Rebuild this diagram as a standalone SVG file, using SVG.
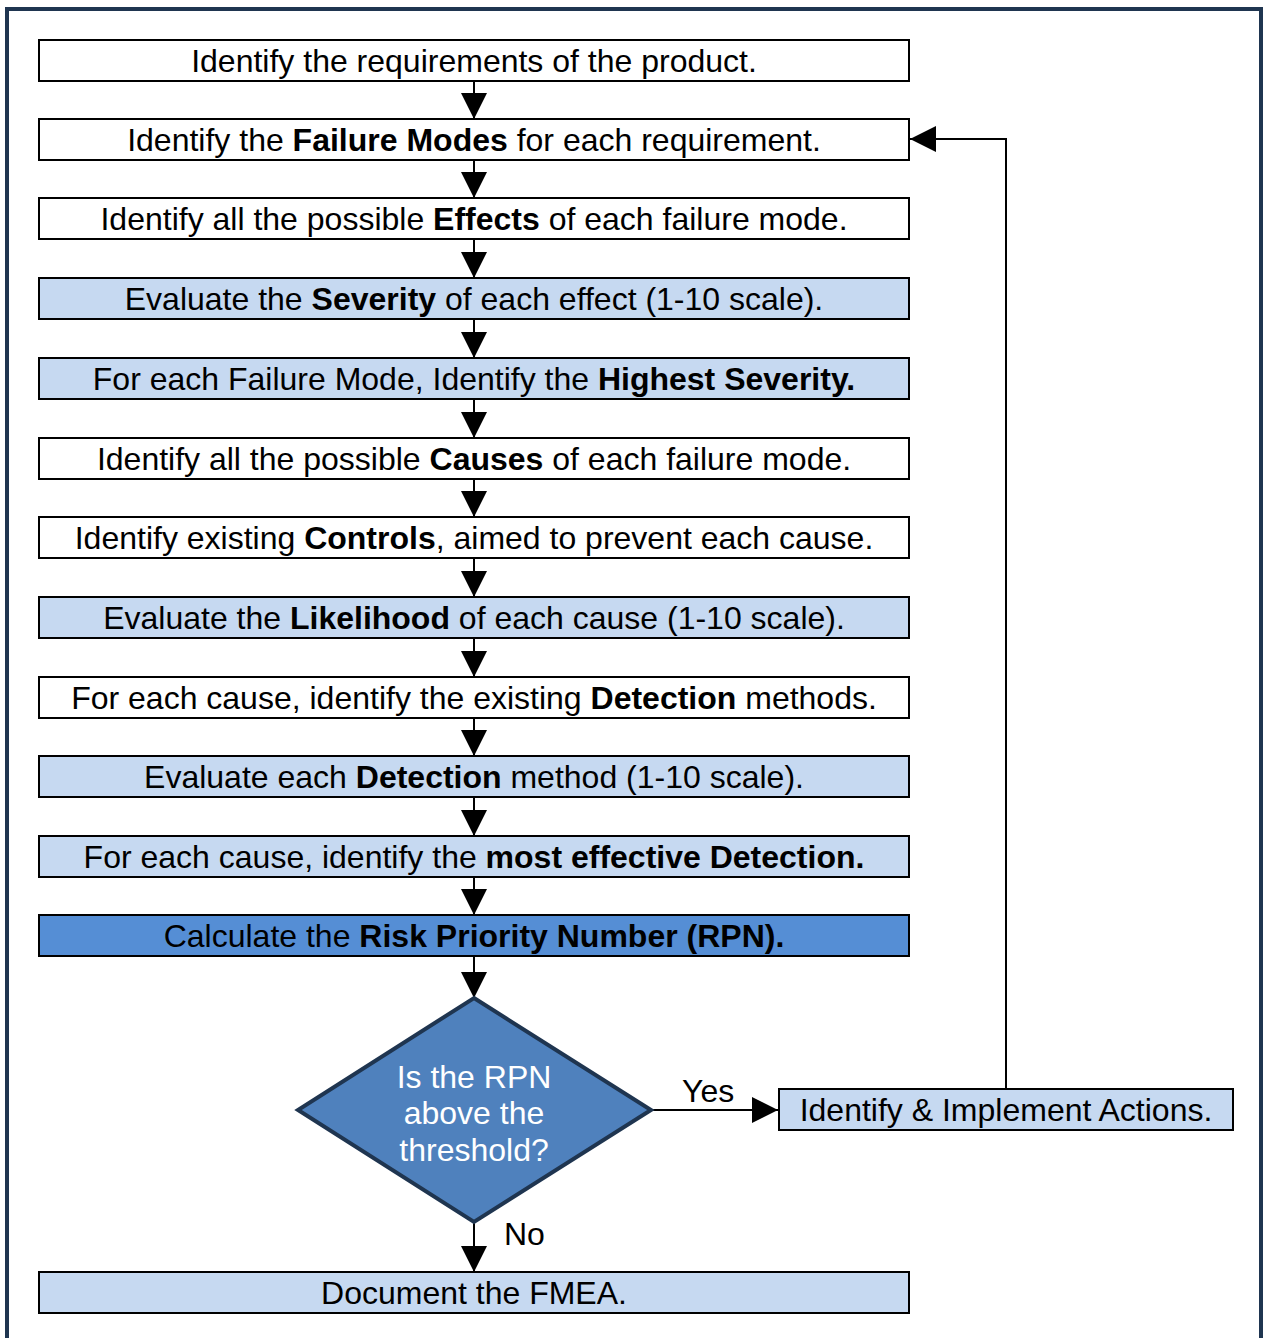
<svg xmlns="http://www.w3.org/2000/svg" width="1264" height="1338" viewBox="0 0 1264 1338">
<defs>
<marker id="ah" markerWidth="26" markerHeight="26" viewBox="0 0 26 26" refX="26" refY="13" orient="auto" markerUnits="userSpaceOnUse">
<path d="M0,0 L26,13 L0,26 Z" fill="#000"/>
</marker>
<style>
.box{stroke:#000;stroke-width:2}
.w{fill:#fff}
.l{fill:#c6d9f1}
.d{fill:#558ed5}
text{font-family:"Liberation Sans",Arial,sans-serif;font-size:32px;fill:#000}
.t{text-anchor:middle}
.b{font-weight:bold}
.c{stroke:#000;stroke-width:2;fill:none}
</style>
</defs>
<rect x="0" y="0" width="1264" height="1338" fill="#fff"/>
<rect x="7" y="9" width="1254" height="1340" fill="none" stroke="#1f3550" stroke-width="4"/>
<g id="connectors">
<line class="c" x1="474" y1="81" x2="474" y2="119" marker-end="url(#ah)"/>
<line class="c" x1="474" y1="160" x2="474" y2="198" marker-end="url(#ah)"/>
<line class="c" x1="474" y1="239" x2="474" y2="278" marker-end="url(#ah)"/>
<line class="c" x1="474" y1="319" x2="474" y2="358" marker-end="url(#ah)"/>
<line class="c" x1="474" y1="399" x2="474" y2="438" marker-end="url(#ah)"/>
<line class="c" x1="474" y1="479" x2="474" y2="517" marker-end="url(#ah)"/>
<line class="c" x1="474" y1="558" x2="474" y2="597" marker-end="url(#ah)"/>
<line class="c" x1="474" y1="638" x2="474" y2="677" marker-end="url(#ah)"/>
<line class="c" x1="474" y1="718" x2="474" y2="756" marker-end="url(#ah)"/>
<line class="c" x1="474" y1="797" x2="474" y2="836" marker-end="url(#ah)"/>
<line class="c" x1="474" y1="877" x2="474" y2="915" marker-end="url(#ah)"/>
<line class="c" x1="474" y1="956" x2="474" y2="998" marker-end="url(#ah)"/>
<line class="c" x1="651" y1="1110" x2="778" y2="1110" marker-end="url(#ah)"/>
<line class="c" x1="474" y1="1222" x2="474" y2="1272" marker-end="url(#ah)"/>
<polyline class="c" points="1006,1089 1006,139 910,139" marker-end="url(#ah)"/>
<text x="682" y="1102">Yes</text>
<text x="504" y="1245">No</text>
</g>
<g id="n1"><rect class="box w" x="39" y="40" width="870" height="41"/><text class="t" x="474" y="72">Identify the requirements of the product.</text></g>
<g id="n2"><rect class="box w" x="39" y="119" width="870" height="41"/><text class="t" x="474" y="151">Identify the <tspan class="b">Failure Modes</tspan> for each requirement.</text></g>
<g id="n3"><rect class="box w" x="39" y="198" width="870" height="41"/><text class="t" x="474" y="230">Identify all the possible <tspan class="b">Effects</tspan> of each failure mode.</text></g>
<g id="n4"><rect class="box l" x="39" y="278" width="870" height="41"/><text class="t" x="474" y="310">Evaluate the <tspan class="b">Severity</tspan> of each effect (1-10 scale).</text></g>
<g id="n5"><rect class="box l" x="39" y="358" width="870" height="41"/><text class="t" x="474" y="390">For each Failure Mode, Identify the <tspan class="b">Highest Severity.</tspan></text></g>
<g id="n6"><rect class="box w" x="39" y="438" width="870" height="41"/><text class="t" x="474" y="470">Identify all the possible <tspan class="b">Causes</tspan> of each failure mode.</text></g>
<g id="n7"><rect class="box w" x="39" y="517" width="870" height="41"/><text class="t" x="474" y="549">Identify existing <tspan class="b">Controls</tspan>, aimed to prevent each cause.</text></g>
<g id="n8"><rect class="box l" x="39" y="597" width="870" height="41"/><text class="t" x="474" y="629">Evaluate the <tspan class="b">Likelihood</tspan> of each cause (1-10 scale).</text></g>
<g id="n9"><rect class="box w" x="39" y="677" width="870" height="41"/><text class="t" x="474" y="709">For each cause, identify the existing <tspan class="b">Detection</tspan> methods.</text></g>
<g id="n10"><rect class="box l" x="39" y="756" width="870" height="41"/><text class="t" x="474" y="788">Evaluate each <tspan class="b">Detection</tspan> method (1-10 scale).</text></g>
<g id="n11"><rect class="box l" x="39" y="836" width="870" height="41"/><text class="t" x="474" y="868">For each cause, identify the <tspan class="b">most effective Detection.</tspan></text></g>
<g id="n12"><rect class="box d" x="39" y="915" width="870" height="41"/><text class="t" x="474" y="947">Calculate the <tspan class="b">Risk Priority Number (RPN).</tspan></text></g>
<g id="n13"><polygon points="474,998 651,1110 474,1222 298,1110" fill="#4f81bd" stroke="#1f3550" stroke-width="4" stroke-linejoin="miter"/>
<text class="t" x="474" y="1088" style="fill:#fff">Is the RPN</text>
<text class="t" x="474" y="1124" style="fill:#fff">above the</text>
<text class="t" x="474" y="1161" style="fill:#fff">threshold?</text></g>
<g id="n14"><rect class="box l" x="779" y="1089" width="454" height="41"/><text class="t" x="1006" y="1121">Identify &amp; Implement Actions.</text></g>
<g id="n15"><rect class="box l" x="39" y="1272" width="870" height="41"/><text class="t" x="474" y="1304">Document the FMEA.</text></g>
</svg>
